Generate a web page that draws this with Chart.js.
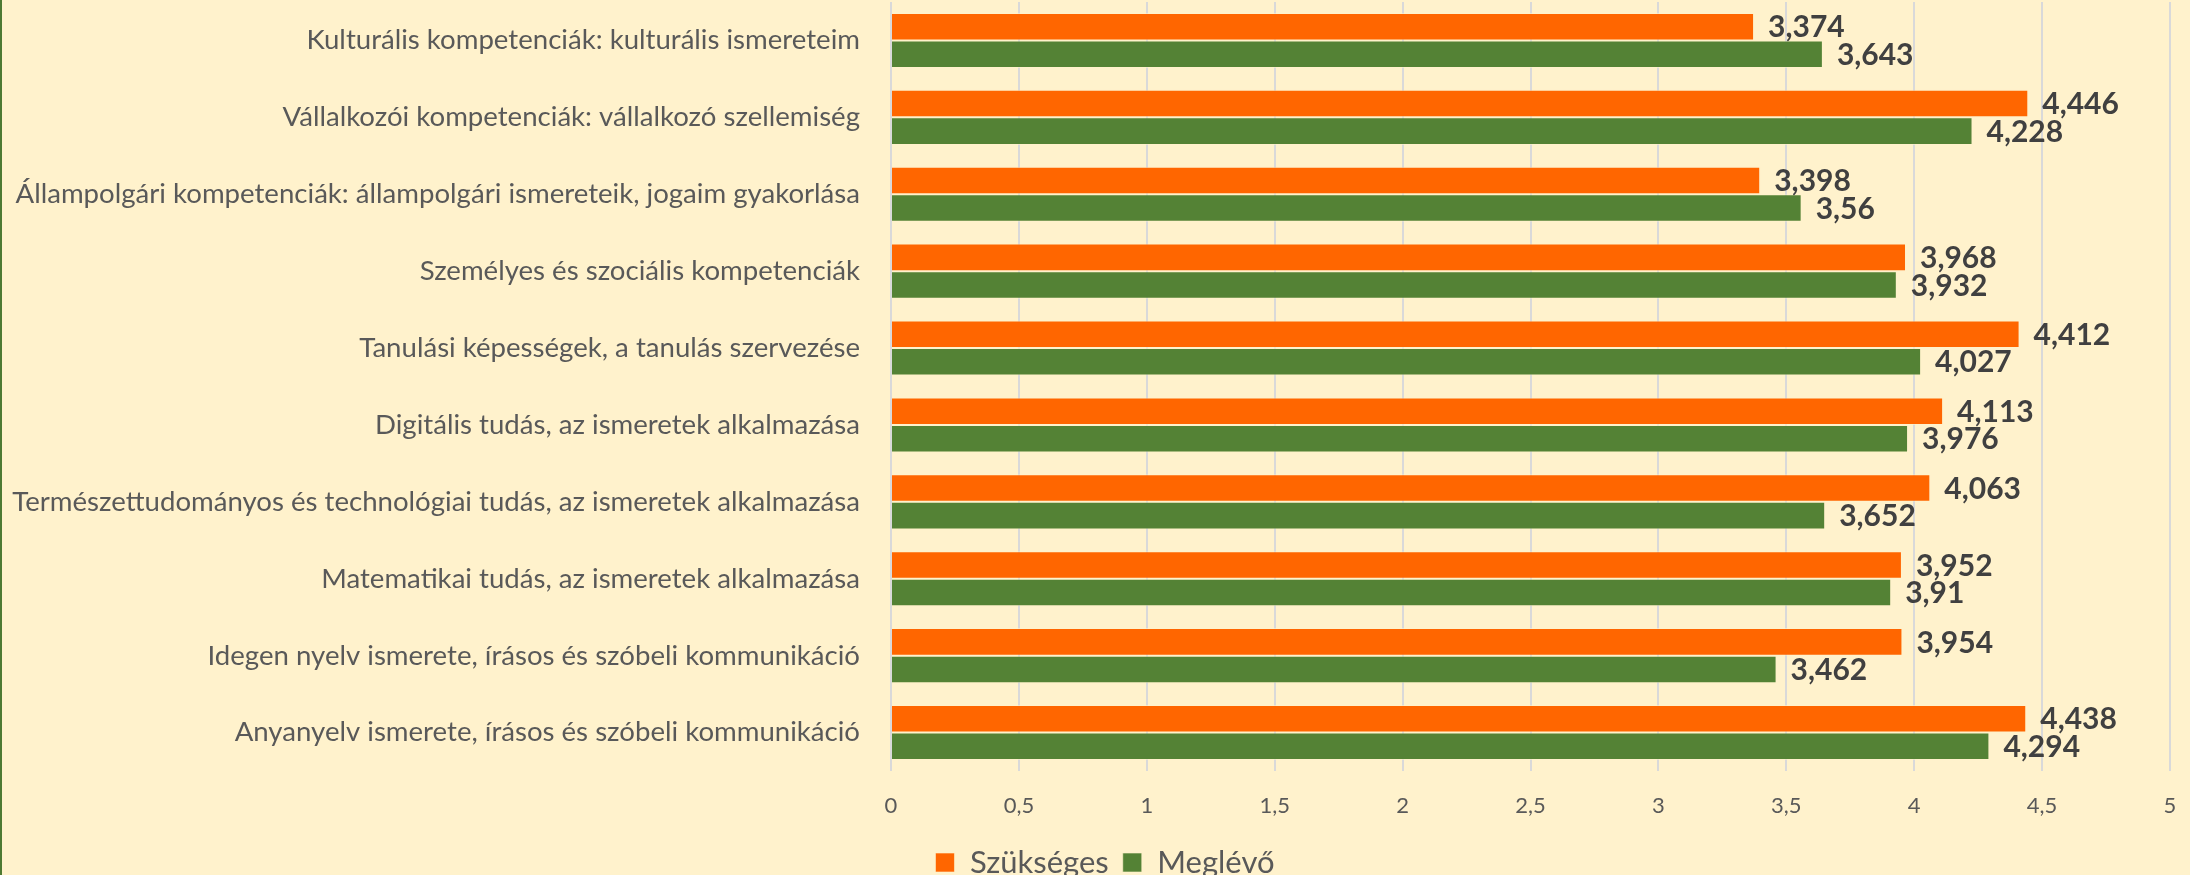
<!DOCTYPE html>
<html>
<head>
<meta charset="utf-8">
<script src="https://cdn.jsdelivr.net/npm/chart.js@4.4.1/dist/chart.umd.min.js"></script>
<style>
  html, body { margin: 0; padding: 0; background: #FFF2CC; }
  canvas { display: block; }
</style>
</head>
<body>
<canvas id="kompetenciak" width="2190" height="875"></canvas>
<script>
//data
const categories = [
    'Kulturális kompetenciák: kulturális ismereteim',
    'Vállalkozói kompetenciák: vállalkozó szellemiség',
    'Állampolgári kompetenciák: állampolgári ismereteik, jogaim gyakorlása',
    'Személyes és szociális kompetenciák',
    'Tanulási képességek, a tanulás szervezése',
    'Digitális tudás, az ismeretek alkalmazása',
    'Természettudományos és technológiai tudás, az ismeretek alkalmazása',
    'Matematikai tudás, az ismeretek alkalmazása',
    'Idegen nyelv ismerete, írásos és szóbeli kommunikáció',
    'Anyanyelv ismerete, írásos és szóbeli kommunikáció'
];
const szukseges = [3.374, 4.446, 3.398, 3.968, 4.412, 4.113, 4.063, 3.952, 3.954, 4.438];
const meglevo = [3.643, 4.228, 3.56, 3.932, 4.027, 3.976, 3.652, 3.91, 3.462, 4.294];
const xTicks = [0, 0.5, 1, 1.5, 2, 2.5, 3, 3.5, 4, 4.5, 5];

const hu = v => String(v).replace('.', ',');

Chart.defaults.font.family = 'Lato';
Chart.defaults.color = '#595959';

//setup
const data = {
    labels: categories,
    datasets: [{
        label: 'Szükséges',
        data: szukseges,
        backgroundColor: '#FF6600',
        borderColor: 'rgba(255, 242, 204, 0.6)',
        borderWidth: 1
    }, {
        label: 'Meglévő',
        data: meglevo,
        backgroundColor: '#548235',
        borderColor: 'rgba(255, 242, 204, 0.6)',
        borderWidth: 1
    }]
};

// background, left frame line and value labels
const decor = {
    id: 'decor',
    afterLayout(chart) {
        // legend sits a little right of centre in the original
        chart.legend.left += 20;
        chart.legend.right += 20;
    },
    beforeDraw(chart) {
        const ctx = chart.ctx;
        ctx.save();
        ctx.fillStyle = '#FFF2CC';
        ctx.fillRect(0, 0, chart.width, chart.height);
        ctx.fillStyle = '#4E7A33';
        ctx.fillRect(0, 0, 2, chart.height);
        ctx.restore();
    },
    afterDatasetsDraw(chart) {
        const ctx = chart.ctx;
        ctx.save();
        ctx.font = 'bold 30px Lato';
        ctx.fillStyle = '#404040';
        ctx.textAlign = 'left';
        ctx.textBaseline = 'middle';
        chart.data.datasets.forEach((ds, i) => {
            chart.getDatasetMeta(i).data.forEach((bar, j) => {
                ctx.fillText(hu(ds.data[j]), bar.x + 14, bar.y + 1);
            });
        });
        ctx.restore();
    }
};

//options
const options = {
    indexAxis: 'y',
    responsive: false,
    animation: false,
    devicePixelRatio: 1,
    layout: {
        padding: { top: 2, right: 20, left: 0, bottom: -13 }
    },
    datasets: {
        bar: { categoryPercentage: 0.716, barPercentage: 1 }
    },
    plugins: {
        legend: {
            position: 'bottom',
            labels: {
                boxWidth: 19,
                boxHeight: 19,
                padding: 14,
                color: '#595959',
                font: { size: 31 }
            }
        },
        tooltip: { enabled: false }
    },
    scales: {
        x: {
            min: 0,
            max: 5,
            afterBuildTicks(scale) {
                scale.ticks = xTicks.map(v => ({ value: v }));
            },
            afterFit(scale) {
                scale.height = 62;
                scale.paddingLeft = 0;
                scale.paddingRight = 0;
            },
            grid: { color: '#D9D9D9', lineWidth: 2, drawTicks: false },
            border: { display: false },
            ticks: {
                padding: 22,
                color: '#595959',
                font: { size: 22 },
                callback: v => hu(v)
            }
        },
        y: {
            afterFit(scale) {
                scale.width = 891;
                scale.paddingTop = 0;
                scale.paddingBottom = 0;
            },
            grid: { display: false, drawTicks: false },
            border: { display: false },
            ticks: {
                padding: 31,
                color: '#595959',
                font: { size: 27.6 }
            }
        }
    }
};

//config
const config = {
    type: 'bar',
    data: data,
    options,
    plugins: [decor]
};

//render init
const kompetenciak = new Chart(
    document.getElementById('kompetenciak'),
    config
);
</script>
</body>
</html>
